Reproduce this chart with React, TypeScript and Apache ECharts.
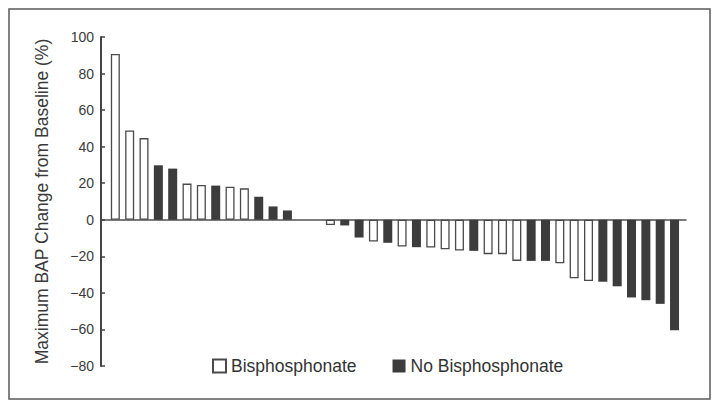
import React, { useEffect, useRef } from "react";
import * as echarts from "echarts";

// Waterfall values (% change), sorted; null = no bar drawn
const values: (number | null)[] = [
  90.7, 48.9, 44.7, 29.8, 28.0, 19.8, 19.0, 18.7, 18.1, 17.2, 12.6, 7.3, 5.1,
  null, null,
  -2.9, -3.1, -9.7, -11.9, -12.6, -14.6, -15.0, -15.2, -16.1, -16.8, -17.0,
  -18.8, -18.8, -22.5, -22.5, -22.5, -23.8, -32.0, -33.5, -33.9, -36.4, -42.5,
  -44.0, -46.0, -60.4,
];
// B = Bisphosphonate, N = No Bisphosphonate
const groups: string[] = [
  "B", "B", "B", "N", "N", "B", "B", "N", "B", "B", "N", "N", "N",
  "-", "-",
  "B", "N", "N", "B", "N", "B", "N", "B", "B", "B", "N", "B", "B", "B", "N",
  "N", "B", "B", "B", "N", "N", "N", "N", "N", "N",
];
const seriesNames = ["Bisphosphonate", "No Bisphosphonate"];
const yTicks = { min: -80, max: 100, interval: 20 };
const yAxisTitle = "Maximum BAP Change from Baseline (%)";

export default function App() {
  const ref = useRef<HTMLDivElement>(null);
  useEffect(() => {
    if (!ref.current) return;
    const chart = echarts.init(ref.current, undefined, { renderer: "svg" });
    const bData: any[] = [];
    const nData: any[] = [];
    values.forEach((v, i) => {
      if (v === null) return;
      if (groups[i] === "B") bData.push([i + 1, v]);
      else nData.push([i + 1, v]);
    });
    const font = "'Liberation Sans', Arial, sans-serif";
    chart.setOption({
      animation: false,
      backgroundColor: "#ffffff",
      grid: { left: 101, right: 34, top: 37, bottom: 43 },
      xAxis: {
        type: "value",
        min: 0,
        max: 40.8,
        splitLine: { show: false },
        axisTick: { show: false },
        axisLabel: { show: false },
        axisLine: { show: true, onZero: true, lineStyle: { color: "#505050", width: 1.5 } },
      },
      yAxis: {
        type: "value",
        min: yTicks.min,
        max: yTicks.max,
        interval: yTicks.interval,
        splitLine: { show: false },
        axisLine: { show: true, onZero: false, lineStyle: { color: "#444", width: 2 } },
        axisTick: { show: true, inside: true, length: 4, lineStyle: { color: "#444", width: 1.5 } },
        axisLabel: {
          color: "#3a3a3a",
          fontSize: 14,
          fontFamily: font,
          margin: 7,
          formatter: (v: number) => (v < 0 ? "\u2212" + Math.abs(v) : String(v)),
        },
        name: yAxisTitle,
        nameLocation: "middle",
        nameGap: 50,
        nameRotate: 90,
        nameTextStyle: { color: "#3a3a3a", fontSize: 17.5, fontFamily: font },
      },
      legend: {
        left: 212,
        top: 357,
        padding: 0,
        icon: "rect",
        itemWidth: 13,
        itemHeight: 13,
        itemGap: 36,
        textStyle: { color: "#333", fontSize: 17.5, fontFamily: font },
        data: seriesNames,
      },
      series: [
        {
          name: seriesNames[0],
          type: "bar",
          barWidth: 9,
          barGap: "-100%",
          data: bData,
          itemStyle: { color: "#ffffff", borderColor: "#4a4a4a", borderWidth: 1.3 },
        },
        {
          name: seriesNames[1],
          type: "bar",
          barWidth: 9,
          barGap: "-100%",
          data: nData,
          itemStyle: { color: "#3c3c3c", borderColor: "#3c3c3c", borderWidth: 0 },
        },
      ],
      graphic: [
        {
          type: "rect",
          shape: { x: 9, y: 9, width: 701, height: 390 },
          style: { fill: "none", stroke: "#5a5a5a", lineWidth: 1.5 },
          silent: true,
        },
      ],
    });
    return () => chart.dispose();
  }, []);
  return (
    <div
      ref={ref}
      style={{ position: "absolute", left: 0, top: 0, width: 720, height: 409 }}
    />
  );
}
